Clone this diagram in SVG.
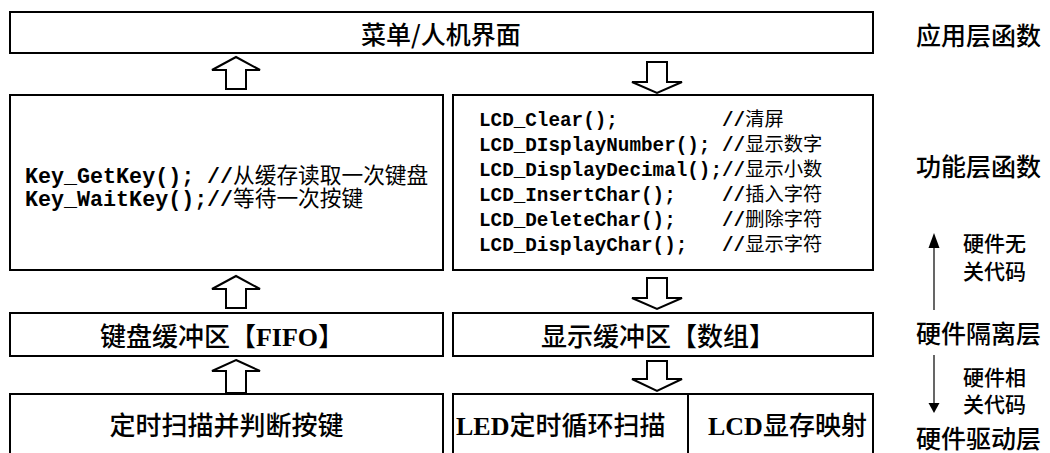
<svg xmlns="http://www.w3.org/2000/svg" width="1050" height="453" viewBox="0 0 1050 453">
<style>
.box{fill:#fff;stroke:#000;stroke-width:2}
.arr{fill:#fff;stroke:#000;stroke-width:2;stroke-linejoin:miter}
.cjk{font-family:"Noto Sans CJK SC","Noto Sans",sans-serif;font-weight:500;fill:#000}
.lat{font-family:"Liberation Serif","Noto Sans CJK SC",serif;font-weight:bold}
.mono{font-family:"Liberation Mono","Noto Sans CJK SC",monospace;font-weight:bold;fill:#000}
.cm{font-family:"Noto Sans CJK SC",sans-serif;font-weight:normal}
.line{stroke:#000;stroke-width:1.2}
</style>
<rect width="1050" height="453" fill="#fff"/>

<g id="node-menu">
<rect class="box" x="10" y="12" width="863" height="41"/>
<text class="cjk" x="441" y="44" font-size="25" text-anchor="middle">菜单/人机界面</text>
</g>

<g id="node-key-func">
<rect class="box" x="10" y="95" width="433" height="175"/>
<text class="mono" font-size="21.7" x="25" y="183">Key_GetKey();<tspan x="207">//</tspan><tspan class="cm">从缓存读取一次键盘</tspan></text>
<text class="mono" font-size="21.7" x="25" y="206">Key_WaitKey();<tspan x="207">//</tspan><tspan class="cm">等待一次按键</tspan></text>
</g>

<g id="node-lcd-func">
<rect class="box" x="453" y="95" width="420" height="175"/>
<g class="mono" font-size="19.3">
<text x="479" y="126">LCD_Clear();<tspan x="722">//</tspan><tspan class="cm">清屏</tspan></text>
<text x="479" y="151">LCD_DIsplayNumber();<tspan x="722">//</tspan><tspan class="cm">显示数字</tspan></text>
<text x="479" y="176">LCD_DisplayDecimal();<tspan x="722">//</tspan><tspan class="cm">显示小数</tspan></text>
<text x="479" y="201">LCD_InsertChar();<tspan x="722">//</tspan><tspan class="cm">插入字符</tspan></text>
<text x="479" y="226">LCD_DeleteChar();<tspan x="722">//</tspan><tspan class="cm">删除字符</tspan></text>
<text x="479" y="251">LCD_DisplayChar();<tspan x="722">//</tspan><tspan class="cm">显示字符</tspan></text>
</g>
</g>

<g id="node-key-buffer">
<rect class="box" x="10" y="313" width="433" height="43"/>
<text class="cjk" x="222" y="346" font-size="26" text-anchor="middle">键盘缓冲区【<tspan class="lat">FIFO</tspan>】</text>
</g>

<g id="node-disp-buffer">
<rect class="box" x="453" y="313" width="420" height="43"/>
<text class="cjk" x="658" y="346" font-size="26" text-anchor="middle">显示缓冲区【数组】</text>
</g>

<g id="node-key-scan">
<rect class="box" x="10" y="394" width="433" height="70"/>
<text class="cjk" x="226.5" y="435" font-size="26" text-anchor="middle">定时扫描并判断按键</text>
</g>

<g id="node-led-scan">
<rect class="box" x="453" y="394" width="235" height="70"/>
<text class="cjk" x="456" y="435" font-size="26"><tspan class="lat">LED</tspan>定时循环扫描</text>
</g>

<g id="node-lcd-map">
<rect class="box" x="688" y="394" width="185" height="70"/>
<text class="cjk" x="708" y="435" font-size="26"><tspan class="lat">LCD</tspan>显存映射</text>
</g>

<g id="layer-labels" class="cjk">
<text x="916" y="45" font-size="25">应用层函数</text>
<text x="916" y="176" font-size="25">功能层函数</text>
<text x="916" y="343" font-size="25">硬件隔离层</text>
<text x="916" y="448" font-size="25">硬件驱动层</text>
<text x="963" y="251" font-size="21">硬件无</text>
<text x="963" y="279" font-size="21">关代码</text>
<text x="963" y="385" font-size="21">硬件相</text>
<text x="963" y="412" font-size="21">关代码</text>
</g>

<g id="connectors">
<polygon class="arr" points="236,57 260,70 246,70 246,89 226,89 226,70 212,70"/>
<polygon class="arr" points="236,276 260,289 246,289 246,308 226,308 226,289 212,289"/>
<polygon class="arr" points="236,360 260,371 246,371 246,393 226,393 226,371 212,371"/>
<polygon class="arr" points="647,62 667,62 667,82 682,82 657,93 632,82 647,82"/>
<polygon class="arr" points="647,278 667,278 667,298 682,298 657,309 632,298 647,298"/>
<polygon class="arr" points="647,361 667,361 667,379 682,379 657,391 632,379 647,379"/>
<line class="line" x1="934" y1="310" x2="934" y2="246"/>
<polygon points="934,233 928.5,248 939.5,248" fill="#000"/>
<line class="line" x1="934" y1="355" x2="934" y2="405"/>
<polygon points="928.5,403 939.5,403 934,413" fill="#000"/>
</g>
</svg>
